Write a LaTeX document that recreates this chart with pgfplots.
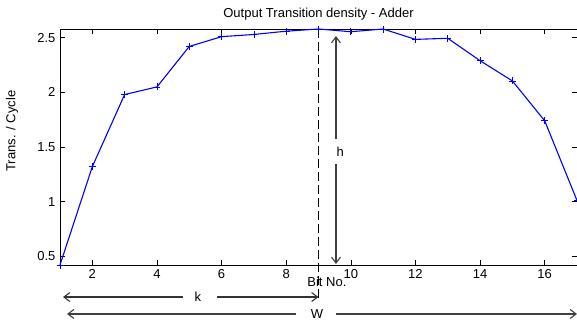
\documentclass[border=0pt]{standalone}
\usepackage{fontspec}
\setmainfont{Liberation Sans}
\usepackage{pgfplots}
\pgfplotsset{compat=1.18}
\usetikzlibrary{arrows.meta}
\begin{document}
\fontsize{13}{15.5}\selectfont
\begin{tikzpicture}
\begin{axis}[
  at={(60pt,60pt)}, anchor=south west,
  scale only axis, width=517pt, height=236pt,
  xmin=1, xmax=17, ymin=0.42, ymax=2.58,
  xtick={2,4,...,16}, ytick={0.5,1,1.5,2,2.5},
  yticklabels={0.5,1,1.5,2,2.5},
  tick align=inside, major tick length=5pt,
  tick style={black, line width=0.6pt},
  axis line style={line width=1pt},
  /pgf/number format/assume math mode=true,
  ticklabel style={font=\fontsize{13}{15.5}\selectfont},
  clip=false,
]
\addplot[blue, line width=1.1pt, mark=+, mark size=3.5pt, mark options={line width=0.7pt}] coordinates {
(1,0.42) (2,1.32) (3,1.98) (4,2.05) (5,2.42) (6,2.51) (7,2.53) (8,2.56)
(9,2.58) (10,2.555) (11,2.58) (12,2.485) (13,2.495) (14,2.29) (15,2.105) (16,1.74) (17,1.01)
};
% dashed line at k
\draw[black, line width=1pt, dash pattern=on 9pt off 4pt] (axis cs:9,2.58) -- (axis cs:9,0.118);
% h arrow
\draw[black!75, line width=1.1pt, -{Straight Barb[length=6pt,width=9pt]}] (axis cs:9.54,1.573) -- (axis cs:9.54,2.516);
\draw[black!75, line width=1.1pt, -{Straight Barb[length=6pt,width=9pt]}] (axis cs:9.54,1.344) -- (axis cs:9.54,0.429);
\node at (axis cs:9.67,1.454) {h};
% k arrow
\draw[black!80, line width=1.1pt, -{Straight Barb[length=6pt,width=9pt]}] (axis cs:4.81,0.127) -- (axis cs:1.093,0.127);
\draw[black!80, line width=1.1pt, -{Straight Barb[length=6pt,width=9pt]}] (axis cs:5.86,0.127) -- (axis cs:9.0,0.127);
\node at (axis cs:5.27,0.127) {k};
% W arrow
\draw[black!75, line width=1.1pt, -{Straight Barb[length=6pt,width=9pt]}] (axis cs:8.30,-0.028) -- (axis cs:1.217,-0.028);
\draw[black!75, line width=1.1pt, -{Straight Barb[length=6pt,width=9pt]}] (axis cs:9.54,-0.028) -- (axis cs:17.0,-0.028);
\node at (axis cs:8.95,-0.028) {W};
% labels
\node at (axis cs:9.26,0.264) {Bit No.};
\node[rotate=90] at (axis cs:-0.486,1.646) {Trans. / Cycle};
\node at (axis cs:9.0,2.713) {Output Transition density - Adder};
\end{axis}
\pgfresetboundingbox
\useasboundingbox (0,0) rectangle (577pt,325pt);
\end{tikzpicture}
\end{document}
